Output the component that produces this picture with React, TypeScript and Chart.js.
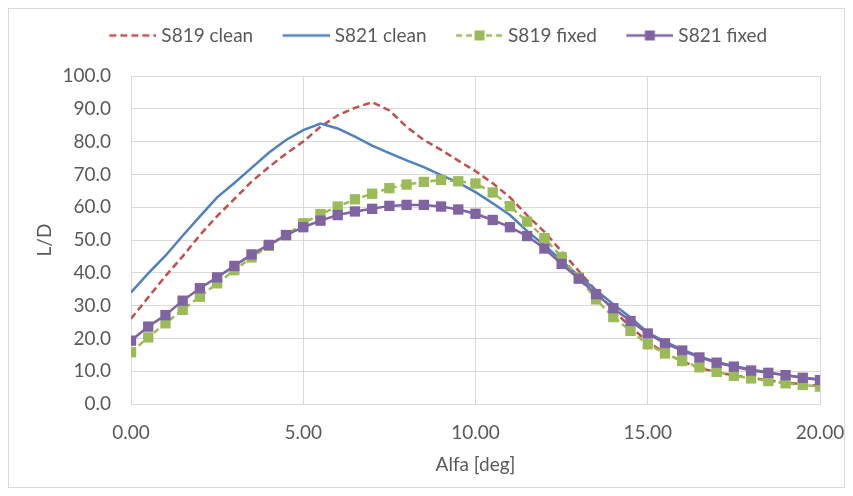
import React, { useEffect, useRef } from "react";
import { Chart, registerables } from "chart.js";

Chart.register(...registerables);

const alpha = [
  0, 0.5, 1, 1.5, 2, 2.5, 3, 3.5, 4, 4.5, 5, 5.5, 6, 6.5, 7, 7.5, 8, 8.5, 9, 9.5, 10,
  10.5, 11, 11.5, 12, 12.5, 13, 13.5, 14, 14.5, 15, 15.5, 16, 16.5, 17, 17.5, 18, 18.5, 19, 19.5, 20,
];

const s819Clean = [
  26, 32.5, 39, 45, 51.5, 57.3, 62.5, 67.8, 72.2, 76.3, 80, 84.5, 88, 90.3, 92, 89.5, 84.5, 80.5, 77.5, 74.2, 71,
  67.3, 63, 57.5, 52.5, 46.5, 40.5, 34.5, 28.5, 23.5, 19, 15.5, 13, 11, 9.7, 8.7, 8, 7.2, 6.6, 6, 5.5,
];

const s821Clean = [
  34, 39.8, 45.2, 51.3, 57.2, 63, 67.4, 72, 76.6, 80.5, 83.5, 85.5, 84, 81.5, 78.8, 76.5, 74.3, 72.2, 69.8, 67.5, 64.6,
  61.2, 57.6, 52.7, 48.4, 43.7, 39, 34.7, 30.4, 26.4, 21.8, 19, 16.6, 14.5, 12.8, 11.6, 10.5, 9.6, 8.8, 8.1, 7.5,
];

const s819Fixed = [
  15.8, 20.3, 24.6, 28.7, 32.7, 36.8, 40.8, 44.7, 48.2, 51.5, 55.1, 57.9, 60.2, 62.4, 64.1, 65.8, 66.9, 67.7, 68.3, 67.9, 67.2,
  64.5, 60.3, 55.6, 50.6, 44.8, 38.5, 31.9, 26.5, 22.3, 18.2, 15.4, 13.1, 11.2, 9.8, 8.6, 7.8, 7.0, 6.3, 5.8, 5.3,
];

const s821Fixed = [
  19.3, 23.6, 27.1, 31.5, 35.3, 38.6, 42.1, 45.6, 48.5, 51.5, 53.9, 55.9, 57.6, 58.7, 59.5, 60.4, 60.7, 60.7, 60.2, 59.3, 58.0,
  56.1, 53.9, 51.2, 47.4, 42.7, 38.2, 33.5, 29.2, 25.3, 21.5, 18.5, 16.3, 14.2, 12.6, 11.4, 10.2, 9.5, 8.8, 8.0, 7.3,
];

const seriesNames = ["S819 clean", "S821 clean", "S819 fixed", "S821 fixed"];
const seriesColors = ["#C0504D", "#4F81BD", "#9BBB59", "#8064A2"];
const seriesDash = [[7, 4], [], [6, 4], []];
const seriesMarker = [false, false, true, true];
const seriesValues = [s819Clean, s821Clean, s819Fixed, s821Fixed];

const xTitle = "Alfa [deg]";
const yTitle = "L/D";

const FONT = "Lato, 'Open Sans', sans-serif";
const TEXT = "#595959";
const GRID = "#d9d9d9";

// legend sample image: 71px wide, line drawn over its right 47px
function makeLegendSample(color: string, dash: number[], marker: boolean) {
  const c = document.createElement("canvas");
  c.width = 71;
  c.height = 14;
  const ctx = c.getContext("2d")!;
  ctx.strokeStyle = color;
  ctx.lineWidth = 2.5;
  ctx.setLineDash(dash);
  ctx.beginPath();
  ctx.moveTo(24, 7);
  ctx.lineTo(71, 7);
  ctx.stroke();
  if (marker) {
    ctx.fillStyle = color;
    ctx.fillRect(42.5, 2, 10, 10);
  }
  return c;
}

export default function App() {
  const ref = useRef<HTMLCanvasElement | null>(null);

  useEffect(() => {
    let chart: Chart | null = null;
    let cancelled = false;

    const build = () => {
      if (cancelled || !ref.current) return;
      const samples = seriesNames.map((_, i) =>
        makeLegendSample(seriesColors[i], seriesDash[i], seriesMarker[i])
      );
      const datasets = seriesNames.map((name, i) => ({
        label: name,
        data: alpha.map((x, j) => ({ x, y: seriesValues[i][j] })),
        borderColor: seriesColors[i],
        backgroundColor: seriesColors[i],
        borderWidth: 2.5,
        borderDash: seriesDash[i],
        pointRadius: seriesMarker[i] ? 7.3 : 0,
        pointStyle: "rect" as const,
        pointBorderWidth: 0,
        pointBackgroundColor: seriesColors[i],
        tension: 0,
        fill: false,
        order: 4 - i,
      }));

      chart = new Chart(ref.current, {
        type: "line",
        data: { datasets },
        options: {
          responsive: false,
          animation: false,
          events: [],
          layout: { padding: { left: 4, right: 0, top: 7, bottom: 0 } },
          plugins: {
            legend: {
              position: "top",
              labels: {
                usePointStyle: true,
                pointStyleWidth: 62,
                padding: 10,
                color: TEXT,
                font: { family: FONT, size: 19 },
                generateLabels: () =>
                  seriesNames.map((name, i) => ({
                    text: name,
                    fillStyle: seriesColors[i],
                    strokeStyle: seriesColors[i],
                    lineWidth: 0,
                    pointStyle: samples[i] as any,
                    hidden: false,
                    datasetIndex: i,
                    fontColor: TEXT,
                  })),
              },
            },
            title: {
              display: true,
              text: "",
              weight: 500,
              padding: { top: 0, bottom: 20 },
              font: { size: 1, lineHeight: 1 },
            } as any,
            tooltip: { enabled: false },
          },
          scales: {
            x: {
              type: "linear",
              min: 0,
              max: 20,
              ticks: {
                stepSize: 5,
                callback: (v: any) => Number(v).toFixed(2),
                color: TEXT,
                font: { family: FONT, size: 19, lineHeight: 1 },
                padding: 19.5,
              },
              grid: { color: GRID, lineWidth: 1, drawTicks: false },
              border: { color: GRID, width: 1 },
              title: {
                display: true,
                text: xTitle,
                color: TEXT,
                font: { family: FONT, size: 19, lineHeight: 1 },
                padding: { top: 0, bottom: 12.5 },
              },
              afterFit: (s: any) => {
                s.height = 83;
                s.paddingRight = 24;
                s.paddingLeft = 0;
              },
            },
            y: {
              type: "linear",
              min: 0,
              max: 100,
              ticks: {
                stepSize: 10,
                callback: (v: any) => Number(v).toFixed(1),
                color: TEXT,
                font: { family: FONT, size: 19, lineHeight: 1 },
                padding: 20,
              },
              grid: { color: GRID, lineWidth: 1, drawTicks: false },
              border: { color: GRID, width: 1 },
              title: {
                display: true,
                text: yTitle,
                color: TEXT,
                font: { family: FONT, size: 19, lineHeight: 1 },
                padding: { top: 22.5, bottom: 0 },
              },
              afterFit: (s: any) => {
                s.width = 118;
              },
            },
          },
        },
      } as any);
    };

    const fonts: any = (document as any).fonts;
    if (fonts && fonts.load) {
      fonts.load(`19px Lato`).then(build, build);
    } else {
      build();
    }

    return () => {
      cancelled = true;
      if (chart) chart.destroy();
    };
  }, []);

  return (
    <div style={{ border: "1px solid #d9d9d9", width: 835, height: 478 }}>
      <canvas ref={ref} width={835} height={478} style={{ display: "block" }} />
    </div>
  );
}
